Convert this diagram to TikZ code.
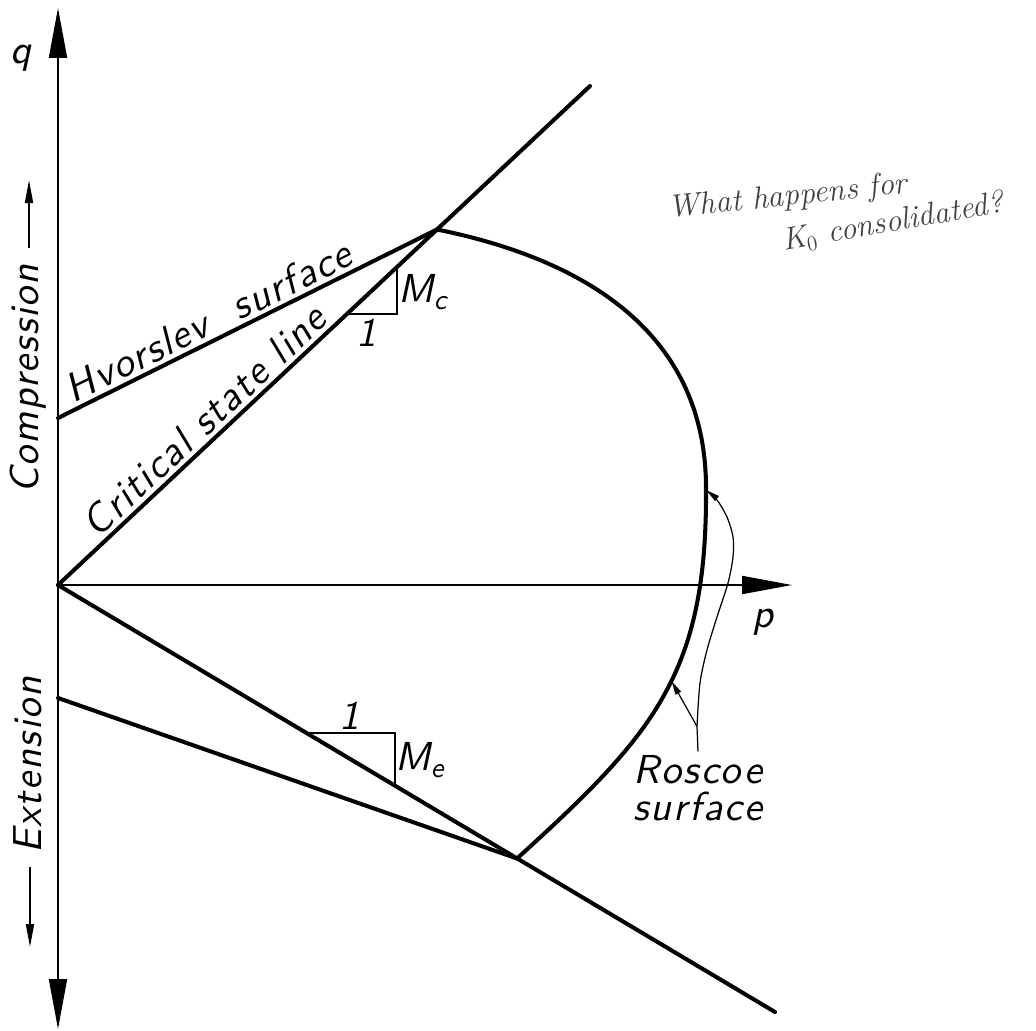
\documentclass[tikz,border=0pt]{standalone}
\usepackage{fontspec}
\newfontfamily\labfont{lmsans10-oblique.otf}[LetterSpace=4.5]
\usepackage{tikz}
\usetikzlibrary{arrows.meta,calc,positioning}

\begin{document}
\begin{tikzpicture}[font=\labfont\fontsize{23}{21}\selectfont,
  >={Triangle[length=1cm,width=0.36cm]},
  axis/.style={line width=1.1pt},
  bound/.style={line width=2.3pt,line cap=round,line join=round},
  tri/.style={line width=0.85pt},
  dirarrow/.style={line width=1pt,-{Triangle[length=0.46cm,width=0.16cm]}},
  rarrow/.style={line width=0.7pt,-{Triangle[length=0.28cm,width=0.12cm]}},
  note/.style={font=\fontsize{18}{20}\selectfont\rmfamily\itshape,black!75}]
  \useasboundingbox (-1.16,-8.9) rectangle (19.56,11.7);
  \coordinate (O) at (0,0);
  \coordinate (qtop) at (0,11.54);
  \coordinate (qbot) at (0,-8.88);
  \coordinate (ptip) at (14.68,0);
  \coordinate (hv) at (0,3.34);
  \coordinate (hinge) at (7.58,7.11);
  \coordinate (csl) at (10.64,9.98);
  \coordinate (he) at (0,-2.26);
  \coordinate (corner) at (9.18,-5.47);
  \coordinate (cse) at (14.34,-8.54);
  \coordinate (ru) at (12.96,1.9);
  \draw[axis,<->] (qbot) -- (qtop);
  \draw[axis,->] (O) -- (ptip);
  \draw[bound] (hv) -- node[sloped,above,pos=0.42,inner sep=2pt] (hvlab) {Hvorslev~~surface} (hinge);
  \draw[bound] (O) -- node[sloped,above,pos=0.30,inner sep=2pt] (csllab) {Critical state line} (csl);
  \draw[bound] (O) -- (cse);
  \draw[bound] (he) -- (corner);
  \draw[bound] (hinge) .. controls (10.6,6.5) and (12.98,5.0) .. (ru)
    .. controls (12.98,-1.8) and (11.9,-3.0) .. coordinate[pos=0.45] (rl) (corner);
  \draw[tri] (5.78,5.42) -- (6.78,5.42) -- (6.78,6.36);
  \node (one1) at (6.18,5.04) {1};
  \node (mc) at (7.3,5.86) {M\textsubscript{c}};
  \draw[tri] (4.97,-2.96) -- (6.74,-2.96) -- (6.74,-4.01);
  \node (one2) at (5.84,-2.62) {1};
  \node (me) at (7.24,-3.5) {M\textsubscript{e}};
  \node (q) at (-0.74,10.54) {q};
  \node (p) at (14.1,-0.74) {p};
  \node[rotate=90] (comp) at (-0.6,4.12) {Compression};
  \node[rotate=90] (ext) at (-0.6,-3.6) {Extension};
  \draw[dirarrow] (-0.58,6.74) -- (-0.58,8.1);
  \draw[dirarrow] (-0.56,-5.64) -- (-0.56,-7.24);
  \node[align=center,inner sep=2pt] (roscoe) at (12.8,-4.06) {Roscoe\\surface};
  \coordinate (rj) at ($(roscoe.north)+(-0.02,0.5)$);
  \draw[line width=0.7pt] (roscoe.north) -- (rj);
  \draw[rarrow] plot[smooth] coordinates {(rj) (12.84,-1.96) (12.98,-1.3) (13.18,-0.64) (13.4,0.04) (13.5,0.56) (13.5,0.96) (13.38,1.36) (13.18,1.7) (ru)};
  \draw[rarrow] (rj) -- (rl);
  \node[note,rotate=6] (note1) at (14.6,7.75) {What happens for};
  \node[note,rotate=10] (note2) at (16.7,7.25) {K$_0$ consolidated?};
\end{tikzpicture}
\end{document}
